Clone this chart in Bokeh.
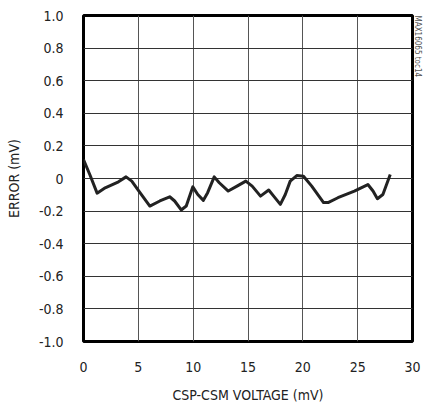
from bokeh.plotting import figure
from bokeh.models import FixedTicker, Title
from bokeh.embed import file_html
from bokeh.resources import INLINE

voltage_mv = [0.0, 0.6, 1.24, 1.98, 3.19, 3.88, 4.4, 5.15, 6.05, 6.96, 7.86, 8.31,
              8.91, 9.37, 9.97, 10.42, 10.93, 11.32, 11.92, 12.38, 13.2, 14.0,
              14.8, 15.38, 16.14, 16.89, 17.34, 17.95, 18.4, 18.85, 19.45, 20.06,
              20.81, 21.89, 22.3, 23.2, 24.7, 25.93, 26.4, 26.8, 27.3, 27.97]
error_mv = [0.116, 0.02, -0.09, -0.057, -0.02, 0.01, -0.016, -0.086, -0.169, -0.138,
            -0.112, -0.138, -0.193, -0.169, -0.051, -0.098, -0.134, -0.087, 0.01,
            -0.026, -0.077, -0.047, -0.016, -0.047, -0.108, -0.071, -0.108, -0.159,
            -0.098, -0.016, 0.018, 0.014, -0.047, -0.148, -0.148, -0.118, -0.077,
            -0.037, -0.077, -0.124, -0.098, 0.024]

x_ticks = [0, 5, 10, 15, 20, 25, 30]
y_ticks = [1.0, 0.8, 0.6, 0.4, 0.2, 0.0, -0.2, -0.4, -0.6, -0.8, -1.0]
y_tick_labels = ["1.0", "0.8", "0.6", "0.4", "0.2", "0", "-0.2", "-0.4", "-0.6", "-0.8", "-1.0"]

FONT = "'DejaVu Sans Condensed', 'Liberation Sans Narrow', Roboto, sans-serif"

p = figure(width=423, height=405, x_range=(0, 30), y_range=(-1, 1),
           output_backend="svg", toolbar_location=None,
           min_border_left=83, min_border_right=0, min_border_top=15, min_border_bottom=62)

p.line(voltage_mv, error_mv, line_color="#222222", line_width=3, line_join="round")

p.outline_line_color = "black"
p.outline_line_width = 3

p.xaxis.ticker = FixedTicker(ticks=x_ticks)
p.yaxis.ticker = FixedTicker(ticks=y_ticks)
p.yaxis.major_label_overrides = {t: l for t, l in zip(y_ticks, y_tick_labels)}
p.xgrid.ticker = FixedTicker(ticks=x_ticks)
p.ygrid.ticker = FixedTicker(ticks=y_ticks)
p.xgrid.grid_line_color = "#555555"
p.ygrid.grid_line_color = "#333333"
for g in (p.xgrid, p.ygrid):
    g.grid_line_width = 1
    g.grid_line_alpha = 1

for ax in (p.xaxis, p.yaxis):
    ax.axis_line_color = None
    ax.major_tick_line_color = None
    ax.minor_tick_line_color = None
    ax.major_label_text_font = FONT
    ax.major_label_text_font_size = "14px"
    ax.major_label_text_color = "#222222"
    ax.axis_label_text_font = FONT
    ax.axis_label_text_font_size = "14px"
    ax.axis_label_text_font_style = "normal"
    ax.axis_label_text_color = "#222222"
    ax.major_label_standoff = 14

p.xaxis.axis_label = "CSP-CSM VOLTAGE (mV)"
p.yaxis.axis_label = "ERROR (mV)"
p.xaxis.axis_label_standoff = 12
p.yaxis.axis_label_standoff = 14

p.add_layout(Title(text="MAX16065 toc14", align="left", standoff=0, offset=0,
                   text_font=FONT, text_font_size="8px", text_color="#555555",
                   text_font_style="normal"), "right")

open("out.html", "w").write(file_html(p, INLINE))
